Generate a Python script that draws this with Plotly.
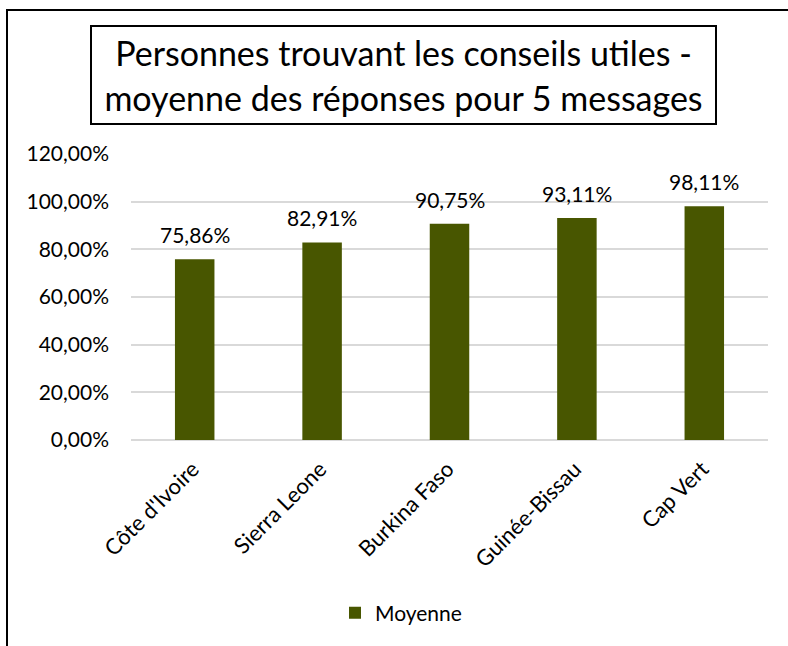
import plotly.graph_objects as go

categories = ["Côte d'Ivoire", "Sierra Leone", "Burkina Faso", "Guinée-Bissau", "Cap Vert"]
values = [0.7586, 0.8291, 0.9075, 0.9311, 0.9811]
series_name = "Moyenne"
title_lines = ["Personnes trouvant les conseils utiles -", "moyenne des réponses pour 5 messages"]
y_ticks = [0, 0.2, 0.4, 0.6, 0.8, 1.0, 1.2]

W, H = 788, 646
L, R, T, B = 131, 20, 154, 206
pw, ph = W - L - R, H - T - B

def px_x(p):
    return (p - L) / pw

def px_y(p):
    return (H - B - p) / ph

FONT = "Lato"
BAR = "#485600"

fig = go.Figure()
fig.add_trace(go.Bar(
    x=categories, y=values, name=series_name,
    marker=dict(color=BAR, line=dict(width=0)),
    width=0.31,
    showlegend=True,
    hoverinfo="skip",
))

for c, v in zip(categories, values):
    fig.add_annotation(x=c, y=v, text=f"{v*100:.2f}%".replace(".", ","),
                       showarrow=False, yanchor="bottom", yshift=10,
                       font=dict(family=FONT, size=21, color="#000000"))

fig.add_annotation(
    xref="paper", yref="paper", x=px_x(403.5), y=px_y(75),
    xanchor="center", yanchor="middle",
    text="<br>".join(title_lines), showarrow=False,
    width=621, height=94, bordercolor="#000000", borderwidth=2, borderpad=1,
    font=dict(family=FONT, size=34, color="#000000"),
)

fig.add_shape(type="line", xref="paper", yref="paper",
              x0=px_x(6), x1=px_x(792), y0=px_y(10), y1=px_y(10),
              line=dict(color="#000000", width=2))
fig.add_shape(type="line", xref="paper", yref="paper",
              x0=px_x(7), x1=px_x(7), y0=px_y(10), y1=px_y(650),
              line=dict(color="#000000", width=2))

fig.update_layout(
    width=W, height=H,
    margin=dict(l=L, r=R, t=T, b=B, autoexpand=False),
    paper_bgcolor="#ffffff", plot_bgcolor="#ffffff",
    separators=", ",
    font=dict(family=FONT, size=20, color="#000000"),
    legend=dict(orientation="h", x=px_x(401), y=px_y(613),
                xanchor="center", yanchor="middle",
                font=dict(family=FONT, size=21, color="#000000")),
    bargap=0.69,
)
fig.update_yaxes(range=[0, 1.2], tickvals=y_ticks, tickformat=".2%",
                 showgrid=True, gridcolor="#d9d9d9", gridwidth=1.5,
                 zeroline=True, zerolinecolor="#d9d9d9", zerolinewidth=1.5,
                 showline=False, ticks="", ticklabelstandoff=21,
                 tickfont=dict(family=FONT, size=21, color="#000000"))
fig.update_xaxes(tickangle=-45, showline=False, ticks="",
                 ticklabelshift=-2, ticklabelstandoff=11,
                 tickfont=dict(family=FONT, size=22, color="#000000"))

fig.write_html("out.html", config={"displayModeBar": False},
               post_script="document.body.style.margin='0';")
